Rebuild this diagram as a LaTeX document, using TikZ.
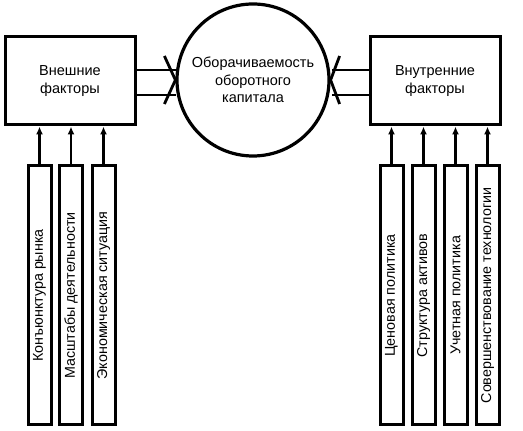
\documentclass[tikz,border=0pt]{standalone}
\usepackage{fontspec}
\setmainfont{Liberation Sans}
\usetikzlibrary{positioning, arrows.meta, calc}

\begin{document}
\begin{tikzpicture}[
  x=1pt, y=1pt,
  factor/.style={draw, line width=3pt, minimum width=130pt, minimum height=88pt,
                 align=center, font=\fontsize{14.5}{17.5}\selectfont, inner sep=0pt},
  core/.style={draw, circle, line width=3.2pt, minimum size=152pt, inner sep=0pt,
               align=center, font=\fontsize{14.5}{17.5}\selectfont},
  item/.style={draw, line width=3pt, rotate=90, minimum width=259pt, minimum height=23pt,
               inner sep=0pt, font=\fontsize{14.3}{16}\selectfont},
  arr/.style={-{Latex[length=8pt, width=7pt]}, line width=2.4pt},
  hollow/.style={line width=2.8pt, line join=miter}
]
  \useasboundingbox (0,0) rectangle (523,431);

  % Main nodes
  \node[factor] (ext) at (70,350) {Внешние\\факторы};
  \node[core] (circ) at (253,351) {Оборачиваемость\\оборотного\\капитала};
  \node[factor] (int) at (435,350) {Внутренние\\факторы};

  % External factors
  \node[item] (e1) at (39.5,135.5) {Конъюнктура рынка};
  \node[item] (e2) at (71,135.5) {Масштабы деятельности};
  \node[item] (e3) at (103.5,135.5) {Экономическая ситуация};

  % Internal factors
  \node[item] (i1) at (391.5,135.5) {Ценовая политика};
  \node[item] (i2) at (423.5,135.5) {Структура активов};
  \node[item] (i3) at (455.5,135.5) {Учетная политика};
  \node[item] (i4) at (487.5,135.5) {Совершенствование технологии};

  % Arrows into the factor boxes
  \foreach \n in {e1,e2,e3}
    \draw[arr] (\n.east) -- (\n.east |- ext.south);
  \foreach \n in {i1,i2,i3,i4}
    \draw[arr] (\n.east) -- (\n.east |- int.south);

  % Hollow arrows into the circle
  \draw[hollow] ($(ext.east)+(0,11)$) -- ++(39,0);
  \draw[hollow] ($(ext.east)+(0,-14)$) -- ++(39,0);
  \draw[hollow] ($(circ.west)+(-11,24)$) -- (circ.west) -- ($(circ.west)+(-11,-24)$);
  \draw[hollow] ($(int.west)+(0,11)$) -- ++(-37,0);
  \draw[hollow] ($(int.west)+(0,-14)$) -- ++(-37,0);
  \draw[hollow] ($(circ.east)+(9,24)$) -- (circ.east) -- ($(circ.east)+(9,-24)$);

\end{tikzpicture}
\end{document}
